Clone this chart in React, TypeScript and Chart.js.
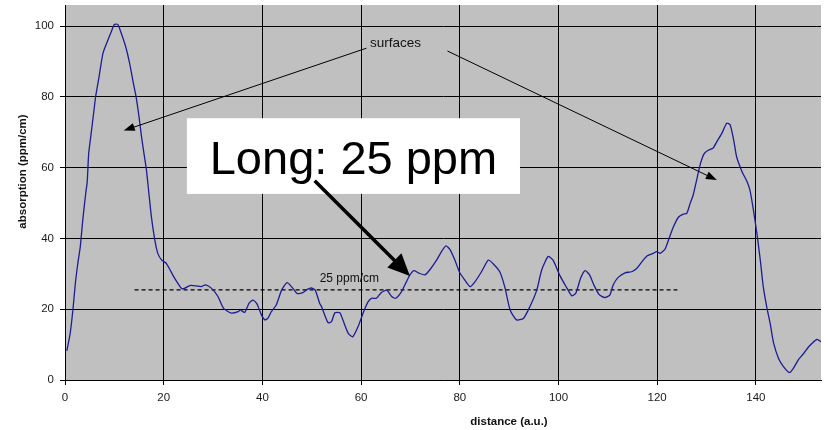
import React, { useEffect, useRef } from "react";
import { Chart, registerables } from "chart.js";

Chart.register(...registerables);

const FONT = "'Liberation Sans', Arial, Helvetica, sans-serif";

// measured profile
const distance = [
  0.37, 1.05, 1.6, 2.1, 2.6, 3.1, 3.6, 4.2, 4.5, 4.8, 5.3, 5.8, 6.2, 6.9, 7.7, 8.7, 9.4, 10.0, 10.7, 11.4,
  12.3, 13.1, 13.8, 14.4, 15.0, 15.5, 15.9, 16.5, 17.0, 17.5, 18.2, 18.8, 19.6, 20.5, 21.3, 22.2, 23.6, 24.2,
  25.3, 26.6, 27.6, 28.5, 29.7, 31.0, 32.1, 33.7, 35.1, 35.5, 36.4, 37.3, 38.1, 38.9, 39.8, 40.5, 41.1, 41.8,
  42.8, 43.9, 45.0, 46.2, 47.0, 48.2, 49.1, 49.9, 50.7, 51.6, 52.0, 53.3, 54.0, 54.7, 55.7, 56.3, 57.4, 58.3,
  59.4, 60.4, 61.4, 62.1, 63.1, 64.1, 65.2, 66.2, 67.0, 68.2, 69.2, 69.9, 70.7, 71.6, 72.9, 73.9, 75.3, 76.3,
  77.2, 78.0, 79.0, 80.0, 81.0, 82.1, 83.1, 84.4, 85.8, 86.8, 88.1, 89.1, 90.2, 91.5, 92.9, 94.2, 95.6, 96.6,
  97.9, 98.9, 100.3, 101.5, 102.7, 103.5, 104.5, 105.4, 106.3, 107.2, 108.2, 109.4, 110.4, 111.1, 112.1, 113.5,
  114.8, 115.9, 116.9, 118.0, 119.2, 119.9, 120.6, 121.6, 122.3, 123.3, 124.3, 125.3, 126.0, 126.7, 127.3, 128.0,
  128.7, 129.5, 130.4, 131.3, 132.1, 133.1, 134.1, 134.8, 135.5, 136.1, 137.2, 138.2, 138.8, 139.5, 140.2, 140.9,
  141.5, 142.2, 142.9, 143.6, 144.6, 145.6, 146.8, 147.6, 148.6, 149.7, 150.7, 152.4, 153.2,
];
const absorption = [
  8.2, 13.2, 19.8, 27.3, 33, 37.7, 45.2, 52.8, 56, 64, 69.7, 75.4, 80, 85.7, 92.4, 96.1, 98.5, 100.5, 100.5, 98,
  94.2, 89.5, 84.3, 80.1, 74.4, 68.8, 65, 59.4, 52.8, 46.2, 39.6, 35.8, 33.9, 33, 31.1, 28.8, 25.9, 25.9,
  26.7, 26.6, 26.4, 26.9, 25.9, 23.6, 20.3, 18.9, 19.3, 19.8, 19.1, 21.7, 22.6, 21.5, 18.4, 17, 17.4, 19.3,
  21.2, 25.4, 27.5, 25.9, 24.5, 24.7, 25.6, 26.0, 25.4, 21.7, 20.7, 16.2, 16.5, 19, 19, 17, 13.2, 12.2,
  15.1, 18.9, 22.1, 23.1, 23.1, 24.7, 25.4, 23.6, 23.1, 25, 27.8, 29.7, 30.9, 30.3, 29.7, 31.1, 33.9, 36.3,
  37.9, 36.9, 33.9, 30.3, 28.3, 26.4, 27.8, 30.6, 33.9, 32.8, 30.6, 26.4, 19.8, 17, 17.4, 20.7, 25.4, 31.1,
  34.9, 33.9, 29.5, 26.5, 23.8, 24.5, 28.8, 30.9, 29.7, 26.8, 24.2, 23.3, 24, 26.9, 29, 30.3,
  30.6, 31.6, 33.4, 35.1, 35.8, 36.3, 35.8, 37, 39.6, 43.3, 46, 46.9, 47.1, 50, 52.3, 56.5,
  60.8, 63.9, 65, 65.5, 67.4, 69.7, 72.6, 72.1, 67.9, 63.1, 58.9, 56.1, 53.7, 48.1, 41.5, 33.9,
  26.4, 20.7, 16, 10.4, 6.1, 3.8, 2.1, 3.3, 5.7, 7.5, 9.4, 11.5, 10.8,
];

const xTicks = [0, 20, 40, 60, 80, 100, 120, 140];
const yTicks = [0, 20, 40, 60, 80, 100];
const xMax = 153.2;
const yMax = 106;

// reference level line
const refLevel = 25.5;
const refRange = [14.1, 124.1];
const refLabel = "25 ppm/cm";
const refLabelPos = [51.6, 28.6];

// annotations (data coordinates)
const surfacesText = "surfaces";
const surfacesPos = [61.8, 95.2];
const surfArrowLeft = [61.1, 93.8, 11.9, 70.5];
const surfArrowRight = [77.5, 93.0, 132.1, 56.5];
const longText = "Long: 25 ppm";
const longBox = [24.7, 92.2, 74.0, 52.6]; // x1, x2, yTop, yBottom
const longArrow = [50.6, 56.3, 69.9, 29.4];

const xTitle = "distance (a.u.)";
const yTitle = "absorption (ppm/cm)";

function drawArrow(ctx: CanvasRenderingContext2D, x1: number, y1: number, x2: number, y2: number, lw: number, hl: number, hw: number) {
  const ang = Math.atan2(y2 - y1, x2 - x1);
  const bx = x2 - hl * Math.cos(ang);
  const by = y2 - hl * Math.sin(ang);
  ctx.save();
  ctx.strokeStyle = "#000";
  ctx.fillStyle = "#000";
  ctx.lineWidth = lw;
  ctx.setLineDash([]);
  ctx.beginPath();
  ctx.moveTo(x1, y1);
  ctx.lineTo(bx + 0.3 * hl * Math.cos(ang), by + 0.3 * hl * Math.sin(ang));
  ctx.stroke();
  const px = -Math.sin(ang) * hw / 2;
  const py = Math.cos(ang) * hw / 2;
  ctx.beginPath();
  ctx.moveTo(x2, y2);
  ctx.lineTo(bx + px, by + py);
  ctx.lineTo(bx - px, by - py);
  ctx.closePath();
  ctx.fill();
  ctx.restore();
}

export default function App() {
  const ref = useRef<HTMLCanvasElement>(null);
  useEffect(() => {
    document.body.style.margin = "0";
    const canvas = ref.current!;
    const bgPlugin = {
      id: "plotBg",
      beforeDraw(chart: any) {
        const { ctx, chartArea: a } = chart;
        ctx.save();
        ctx.fillStyle = "#fff";
        ctx.fillRect(0, 0, chart.width, chart.height);
        ctx.fillStyle = "#c0c0c0";
        ctx.fillRect(a.left, a.top, a.right - a.left, a.bottom - a.top);
        ctx.restore();
      },
    };
    const annPlugin = {
      id: "annotations",
      afterDraw(chart: any) {
        const { ctx } = chart;
        const X = (v: number) => chart.scales.x.getPixelForValue(v);
        const Y = (v: number) => chart.scales.y.getPixelForValue(v);
        ctx.save();
        // ref label
        ctx.fillStyle = "#111";
        ctx.font = `12px ${FONT}`;
        ctx.textAlign = "left";
        ctx.textBaseline = "middle";
        ctx.fillText(refLabel, X(refLabelPos[0]), Y(refLabelPos[1]));
        // surfaces
        ctx.font = `13.5px ${FONT}`;
        ctx.fillText(surfacesText, X(surfacesPos[0]), Y(surfacesPos[1]));
        drawArrow(ctx, X(surfArrowLeft[0]), Y(surfArrowLeft[1]), X(surfArrowLeft[2]), Y(surfArrowLeft[3]), 1, 11, 8);
        drawArrow(ctx, X(surfArrowRight[0]), Y(surfArrowRight[1]), X(surfArrowRight[2]), Y(surfArrowRight[3]), 1, 11, 8);
        // long box
        const bx1 = X(longBox[0]), bx2 = X(longBox[1]), by1 = Y(longBox[2]), by2 = Y(longBox[3]);
        ctx.fillStyle = "#fff";
        ctx.fillRect(bx1, by1, bx2 - bx1, by2 - by1);
        ctx.fillStyle = "#000";
        ctx.font = `47px ${FONT}`;
        ctx.textAlign = "center";
        ctx.textBaseline = "alphabetic";
        ctx.fillText(longText, (bx1 + bx2) / 2, (by1 + by2) / 2 + 17.5);
        drawArrow(ctx, X(longArrow[0]), Y(longArrow[1]), X(longArrow[2]), Y(longArrow[3]), 3.5, 22, 20);
        // axis titles
        ctx.fillStyle = "#111";
        ctx.font = `bold 11.5px ${FONT}`;
        ctx.textAlign = "center";
        ctx.textBaseline = "middle";
        ctx.fillText(xTitle, 509, 421.5);
        ctx.translate(23, 171.5);
        ctx.rotate(-Math.PI / 2);
        ctx.fillText(yTitle, 0, 0);
        ctx.restore();
      },
    };
    const chart = new Chart(canvas, {
      type: "line",
      data: {
        datasets: [
          {
            data: distance.map((x, i) => ({ x, y: absorption[i] })),
            borderColor: "#1c1c96",
            borderWidth: 1.3,
            pointRadius: 0,
            tension: 0.2,
            fill: false,
          },
          {
            data: [
              { x: refRange[0], y: refLevel },
              { x: refRange[1], y: refLevel },
            ],
            borderColor: "#000",
            borderWidth: 1.2,
            borderDash: [4, 3],
            pointRadius: 0,
            fill: false,
          },
        ],
      },
      options: {
        responsive: false,
        animation: false,
        layout: { padding: { top: 5, right: 7, left: 0, bottom: 0 } },
        plugins: { legend: { display: false }, tooltip: { enabled: false } },
        scales: {
          x: {
            type: "linear",
            min: 0,
            max: xMax,
            afterFit: (s: any) => {
              s.height = 50;
              s.paddingLeft = 0;
              s.paddingRight = 0;
            },
            afterBuildTicks: (s: any) => {
              s.ticks = xTicks.map((v) => ({ value: v }));
            },
            ticks: { font: { family: FONT, size: 11.5 }, color: "#1a1a1a", padding: 6, maxRotation: 0, autoSkip: false },
            grid: { color: "#000", lineWidth: 1, tickLength: 5, drawTicks: true },
            border: { color: "#000", width: 1 },
          },
          y: {
            type: "linear",
            min: 0,
            max: yMax,
            afterFit: (s: any) => {
              s.width = 65;
              s.paddingTop = 0;
              s.paddingBottom = 0;
            },
            afterBuildTicks: (s: any) => {
              s.ticks = yTicks.map((v) => ({ value: v }));
            },
            ticks: { font: { family: FONT, size: 11.5 }, color: "#1a1a1a", padding: 6, autoSkip: false },
            grid: { color: "#000", lineWidth: 1, tickLength: 5, drawTicks: true },
            border: { color: "#000", width: 1 },
          },
        },
      },
      plugins: [bgPlugin, annPlugin],
    });
    return () => chart.destroy();
  }, []);
  return (
    <div style={{ position: "absolute", left: 0, top: 0, width: 828, height: 430 }}>
      <canvas ref={ref} width={828} height={430} style={{ width: 828, height: 430, display: "block" }} />
    </div>
  );
}
